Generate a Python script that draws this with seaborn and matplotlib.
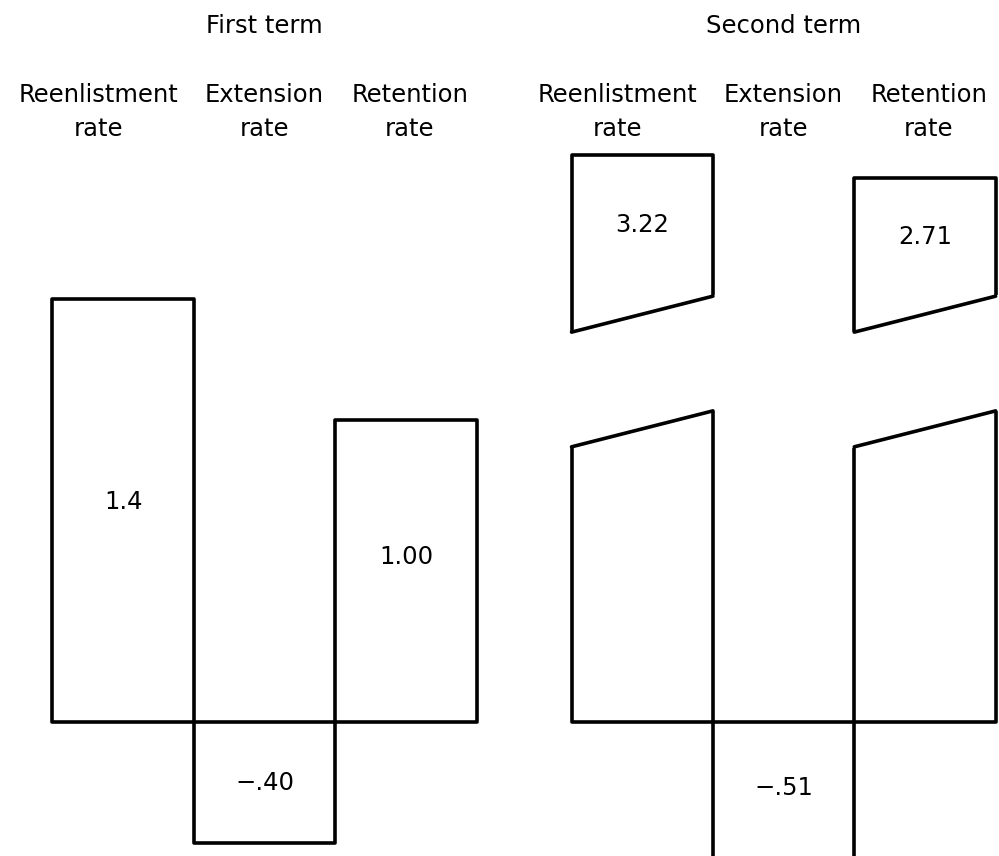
import numpy as np
import pandas as pd
import matplotlib
matplotlib.use("Agg")
import matplotlib.pyplot as plt
import seaborn as sns

# data
terms = ["First term", "Second term"]
rates = ["Reenlistment", "Extension", "Retention"]
first_term = [1.4, -0.40, 1.00]
second_term = [3.22, -0.51, 2.71]
value_labels = ["1.4", "\u2212.40", "1.00", "3.22", "\u2212.51", "2.71"]

df = pd.DataFrame({
    "term": np.repeat(terms, len(rates)),
    "rate": rates * len(terms),
    "value": first_term + second_term,
    "label": value_labels,
})

# y scale: linear up to the break, compressed above it
break_at = 1.64
squeeze = 0.149


def fwd(v):
    v = np.asarray(v, dtype=float)
    return np.where(v <= break_at, v, break_at + (v - break_at) * squeeze)


def inv(u):
    u = np.asarray(u, dtype=float)
    return np.where(u <= break_at, u, break_at + (u - break_at) / squeeze)


sns.set_theme(style="white")
plt.rcParams["font.family"] = ["DejaVu Sans"]
FS = 17.5
LW = 2.6

fig = plt.figure(figsize=(9.99, 8.56), dpi=100)
ax = fig.add_axes([0, 0, 1, 1])
ax.set_yscale("function", functions=(fwd, inv))

sns.barplot(data=df, x="term", y="value", hue="rate", order=terms,
            hue_order=rates, palette=["white"] * len(rates), saturation=1,
            edgecolor="black", linewidth=LW, width=0.817, errorbar=None,
            legend=False, ax=ax)

for p in ax.patches:
    p.set_joinstyle("round")

# gap band for the bars that run past the break (axes fraction, left -> right)
lo_left, lo_right = 0.478, 0.520
hi_left, hi_right = 0.612, 0.654
trans = ax.get_xaxis_transform()

# text heights in axes fraction, one per bar (same order as df)
label_y = [0.4136, 0.0853, 0.3493, 0.7371, 0.0794, 0.7231]
col_offset = [-25, 0, 4]  # pixels, nudges the column headings

for p in ax.patches:
    h = p.get_height()
    match = df.index[np.isclose(df["value"], h)]
    if len(match) == 0:
        continue
    i = match[0]
    x0 = p.get_x()
    x1 = x0 + p.get_width()
    xc = (x0 + x1) / 2

    if h > break_at:
        pad = 0.012
        slope = (lo_right - lo_left) / (x1 - x0)
        xs = [x0 - pad, x1 + pad, x1 + pad, x0 - pad]
        ys = [lo_left - slope * pad, lo_right + slope * pad,
              hi_right + slope * pad, hi_left - slope * pad]
        ax.fill(xs, ys, color="white", transform=trans, zorder=3)
        ax.plot([x0, x1], [lo_left, lo_right], color="black", lw=LW,
                solid_capstyle="round", transform=trans, zorder=4)
        ax.plot([x0, x1], [hi_left, hi_right], color="black", lw=LW,
                solid_capstyle="round", transform=trans, zorder=4)

    ax.text(xc, label_y[i], df.loc[i, "label"], transform=trans,
            ha="center", va="center", fontsize=FS, color="black", zorder=5)

    # column headings above each bar
    j = rates.index(df.loc[i, "rate"])
    dx = col_offset[j] / 519.0
    ax.text(xc + dx, 0.8808, df.loc[i, "rate"], transform=trans,
            ha="center", va="baseline", fontsize=FS, color="black")
    ax.text(xc + dx, 0.8411, "rate", transform=trans,
            ha="center", va="baseline", fontsize=FS, color="black")

for k, t in enumerate(terms):
    ax.text(k, 0.9614, t, transform=trans, ha="center", va="baseline",
            fontsize=FS, color="black")

ax.set_xlim(-0.5096, 1.415)
ax.set_ylim(-0.4437, 6.67)
ax.set_axis_off()

fig.savefig("out.png", dpi=100, facecolor="white")
